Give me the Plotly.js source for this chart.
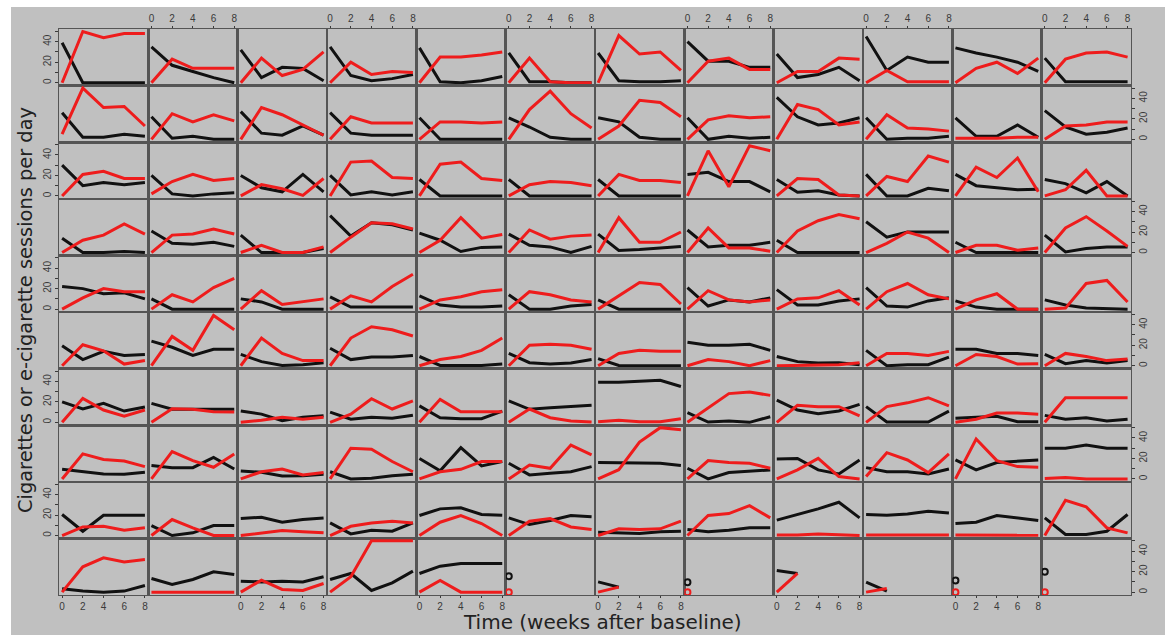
<!DOCTYPE html>
<html>
<head>
<meta charset="utf-8">
<script src="https://cdn.plot.ly/plotly-3.0.1.min.js"></script>
<style>html,body{margin:0;padding:0;background:#fff;}#chart{width:1165px;height:635px;}</style>
</head>
<body>
<div id="chart"></div>
<script>
// Time points (weeks after baseline)
const weeks = [0, 2, 4, 6, 8];
const xTickVals = [0, 2, 4, 6, 8];
const yTickVals = [0, 10, 20, 30, 40, 50];
const yTickText = ['0', '', '20', '', '40', ''];

// Each row: 12 panels, each panel = values at weeks 0,2,4,6,8
// Black = cigarettes, Red = e-cigarette sessions
const blk1 = [[39,0,0,0,0],[35,17,11,5,0],[32,5,15,14,2],[35,7,2,4,8],[34,1,0,2,6],[29,1,1,0,0],[29,2,1,1,2],[40,21,21,15,15],[28,5,8,15,2],[45,12,25,20,20],[34,29,25,20,11],[24,1,1,1,1]];
const red1 = [[0,50,44,48,48],[0,23,14,14,14],[0,24,7,13,30],[0,20,8,11,10],[0,25,25,27,30],[0,24,1,0,0],[0,46,28,30,12],[0,21,24,13,13],[0,11,11,24,23],[0,12,1,1,1],[0,14,20,9,24],[0,23,29,30,25]];

const blk2 = [[26,2,2,5,3],[22,1,3,0,0],[27,6,4,13,4],[26,6,4,4,4],[21,0,0,0,0],[21,12,2,0,0],[21,17,2,0,0],[21,0,3,1,2],[41,22,14,16,21],[21,0,1,1,3],[21,3,3,14,2],[28,12,5,7,11]];
const red2 = [[5,50,31,32,13],[0,25,17,24,18],[0,31,24,14,4],[0,22,16,16,16],[0,17,17,16,17],[0,29,47,25,11],[0,13,38,36,22],[0,19,23,21,22],[0,34,29,14,17],[0,24,11,10,8],[1,1,1,2,2],[0,13,14,17,17]];

const blk3 = [[30,10,13,11,13],[20,2,0,2,3],[20,8,4,21,4],[20,1,4,1,4],[16,0,0,0,0],[16,0,0,0,0],[16,0,0,0,0],[21,23,14,14,4],[16,3.5,5,1,0],[21,0,0,7.5,5],[21,10,8,6,6.5],[16,12,3,14,0]];
const red3 = [[0,21,24,17,17],[2,14,21,15,17],[0,11,7,0.5,17],[0,33,34,18,17],[0,31,33,17,15],[0,11,14,13,10],[0,21,15,15,13],[0,44,9,49,44],[0,17,16,1,0],[0,19,14,39,33],[0,28,18,37,4],[0,6,25,0,0]];

const blk4 = [[14,0,0,1,0],[21,9,8,10,6],[17,0,0,0,4],[36,16,29,27,22],[19,12,1,5,5.5],[18,7,5.5,0,6],[18,2,3,4.5,6],[22,5.5,7,7,10],[12,0,0,0,0],[30,15,20,20,20],[10,0,0,0,0],[17,0.5,4,5.5,5.5]];
const red4 = [[0,12,17,28,18],[0,17,18,23,18],[0,7,0,0,5.5],[0,15,29,28,23],[0,12,34,14,17.5],[0,22,13,16,17],[0,34,10,10,20],[0,24,4.5,4.5,1.3],[0,21,31,37,33],[0,9,20,14,0],[0,7,7,2.3,4.5],[0,24,35,21,6]];

const blk5 = [[22,20,15,16,10],[10,0,0,0,0],[10,7,0,0,0],[12,2,2,2,2],[13,4,2,2,3],[14,0,0,3,4.5],[9,0,0,0,0],[21,3,9,7,11],[19,4,4,8,10],[21,3,2,8,11],[8,2,0,0,0],[9,4,1,0.5,0]];
const red5 = [[0,11,20,17,17],[0,14,7,21,30],[0,18,4.5,7,10],[0,13,7,22,34],[0,9,12,17,19],[0,17,14,9,7],[0,13,26,24,5],[0,18,9,7,9],[0,10,11,18,4],[0,17,25,14,10],[0,9,15,0,0],[0,1,25,28,7]];

const blk6 = [[19.5,6,14,10,11],[24,18,10,16,16],[11,4,0.3,1,3],[17,6,8.5,8.5,10],[9,0.3,0.3,0.3,1.6],[12,3,1.6,2.6,6],[7,0.3,0,0,0],[23,20,20,21,15],[9,4,2.6,3,1],[15,0,1,1,8.4],[16,16,12,12,10],[11,2,5,2.6,5]];
const red6 = [[0,20.5,14.6,1.6,5],[0,28.6,15,49,35],[0,27,12,5,5],[0,27,38,35,29],[0,6,9,15,27],[0,20,21,20,16],[0,12,15,14,14],[0,6,4,0,5],[0,0.5,1,1,3],[0,12,12,10,14],[0,11,9,1.6,2],[0,12,9,5,6.5]];

const blk7 = [[20,13,18.5,11,15],[18.5,12.7,12.7,12.7,12.7],[11,8,1.5,5,6.5],[10,3,5,4,7],[16,4.5,3.6,3.6,11],[21,12.7,14.3,15.3,16.6],[39,39,40,41,35],[9.4,0.3,1.3,0,5.5],[21.7,12,8.4,11,17.5],[15.3,0.3,0.3,0.3,11],[4,5,6,0.5,0.5],[6.8,3,4.5,1.3,3]];
const red7 = [[0,23.4,12,6,12],[0,13.3,12.7,10.4,10],[0,2,5,3,5],[0,8,23,13,21],[0,22.4,10.4,10.4,10.4],[0,13,4.5,1.3,0.3],[0.5,2,0.5,0.5,3.5],[0,14.3,28,29.5,26.3],[0,16.6,15.3,15.3,6.2],[0,15.3,19,24,16],[0,3,9,9,8],[0,24,24,24,24]];

const blk8 = [[9.4,7,4.9,4.5,6.5],[13,11,11,21,9.7],[7.8,6.5,2.9,3.2,4.5],[7,0,0.6,3.2,4.5],[20,8,30.5,12.7,17],[15.3,3.9,5.5,7,12],[16,16,16,15.3,13],[10.4,0,6.2,7.8,8.8],[19.5,20,8.8,4.9,18.5],[11,7,7,4.9,9.7],[18.5,8.8,16,17.5,18.5],[30,30,33,30,30]];
const red8 = [[0,24.4,19,17.5,12],[0,26.6,17.9,11.4,24.4],[0,7,9.7,3.9,6.2],[0,30,29,17,7],[0,7,9.4,17,17],[0,13.6,10.4,33,23.4],[0,9,36,50,48],[0,17.9,16,15.3,10.4],[0,8.8,20,2.3,0],[2.3,25.6,18.5,6.2,24.4],[0,39,17.9,12,11.4],[0.3,1.5,0,0,0]];

const blk9 = [[20.5,4.2,19.8,19.8,19.8],[9.7,0,2.6,9.7,9.7],[16.6,17.9,13,15.6,17.2],[12.3,1.6,5.2,4.2,12.3],[19.5,26,27,20.5,19.8],[17.2,10.7,14.6,19.5,18.2],[3.2,2.6,2,3.6,4.2],[5.8,3.6,5.2,7.5,7.5],[15,20.5,26,32.5,17.2],[20.5,19.8,21,23.7,22],[11.7,13,19.5,17.2,14.6],[17.2,1,1,4.2,20.5]];
const red9 = [[0,8.4,9,5.2,7.5],[0,15.6,7.5,0,0],[0,2.6,4.9,3.6,2.6],[0,9,12.3,14,12.3],[0,13,19.5,11.7,0],[0,14,16.6,8.4,5.8],[0,6.5,5.8,6.5,14],[0,19.5,21.4,29.2,17.2],[0.5,0.5,1.6,0.6,0],[0.5,0.5,0.5,0.5,0.5],[0.5,0.3,0.3,0.3,0.3],[0,34.4,28,7.5,2.6]];

const blk10 = [[3.2,1,0,1,6.5],[13.3,7.5,12.3,19.8,17.2],[10.7,10,10.7,10,15],[12.3,18.2,1.6,9,20.5],[18.2,25.3,28,28,28],[15.6,null,null,null,null],[10,4.9,null,null,null],[9.7,null,null,null,null],[21,18.2,null,null,null],[9.7,1,null,null,null],[11.4,null,null,null,null],[19.8,null,null,null,null]];
const red10 = [[0,24.7,33.4,29.5,31.8],[0,0,0,0,0],[0,11.7,2.6,1.6,8.4],[0,15,50,50,50],[0,11.4,0,0,0],[0,null,null,null,null],[0,4.9,null,null,null],[0,null,null,null,null],[0,18.2,null,null,null],[0,3.6,null,null,null],[0,null,null,null,null],[0,null,null,null,null]];

const blackRows = [blk1, blk2, blk3, blk4, blk5, blk6, blk7, blk8, blk9, blk10];
const redRows = [red1, red2, red3, red4, red5, red6, red7, red8, red9, red10];

const NR = 10, NC = 12;
const BG = '#c0c0c0';
const BORDER = '#555555';
const TICKFONT = {family: 'Liberation Sans, Arial, sans-serif', size: 10, color: '#3a3a3a'};
const TITLEFONT = 'DejaVu Sans, Open Sans, sans-serif';

const traces = [];
const layout = {
  width: 1165, height: 635,
  margin: {l: 59, r: 34, t: 29, b: 40, pad: 0},
  paper_bgcolor: '#ffffff',
  plot_bgcolor: 'rgba(0,0,0,0)',
  showlegend: false,
  shapes: [{
    type: 'rect', xref: 'paper', yref: 'paper', layer: 'below',
    x0: (11 - 59) / 1072, x1: (1175 - 59) / 1072,
    y0: (595 - 645) / 566, y1: (595 - 7) / 566,
    fillcolor: BG, line: {width: 0}
  }],
  annotations: [
    {text: 'Cigarettes or e-cigarette sessions per day', xref: 'paper', yref: 'paper',
     x: (25 - 59) / 1072, y: (595 - 310) / 566, xanchor: 'center', yanchor: 'middle',
     textangle: -90, showarrow: false, borderpad: 0,
     font: {family: TITLEFONT, size: 19.4, color: '#222'}},
    {text: 'Time (weeks after baseline)', xref: 'paper', yref: 'paper',
     x: (602 - 59) / 1072, y: (595 - 634.5) / 566, xanchor: 'center', yanchor: 'bottom',
     showarrow: false, borderpad: 0,
     font: {family: TITLEFONT, size: 20, color: '#222'}}
  ]
};

function countVals(arr) { return arr.filter(v => v !== null).length; }

for (let r = 0; r < NR; r++) {
  for (let c = 0; c < NC; c++) {
    const k = r * NC + c + 1;
    const xs = k === 1 ? '' : String(k);
    const xname = 'xaxis' + xs, yname = 'yaxis' + xs;
    const xa = {
      domain: [c / NC, (c + 1) / NC], range: [-0.3, 8.33], anchor: 'y' + xs,
      showline: true, mirror: true, linecolor: BORDER, linewidth: 1.3,
      showgrid: false, zeroline: false, fixedrange: true,
      ticks: '', showticklabels: false
    };
    if ((r === 0 && c % 2 === 1) || (r === NR - 1 && c % 2 === 0)) {
      Object.assign(xa, {
        side: r === 0 ? 'top' : 'bottom', ticks: 'outside', ticklen: 2, tickwidth: 1,
        tickcolor: '#3a3a3a', showticklabels: true, tickmode: 'array',
        tickvals: xTickVals, ticktext: xTickVals.map(String), tickfont: TICKFONT
      });
    }
    const ya = {
      domain: [1 - (r + 1) / NR, 1 - r / NR], range: [-2.8, 52.4], anchor: 'x' + xs,
      showline: true, mirror: true, linecolor: BORDER, linewidth: 1.3,
      showgrid: false, zeroline: false, fixedrange: true,
      ticks: '', showticklabels: false
    };
    if ((c === 0 && r % 2 === 0) || (c === NC - 1 && r % 2 === 1)) {
      Object.assign(ya, {
        side: c === 0 ? 'left' : 'right', ticks: 'outside', ticklen: 3, tickwidth: 1,
        tickcolor: '#3a3a3a', showticklabels: true, tickmode: 'array',
        tickvals: yTickVals, ticktext: yTickText, tickangle: -90, tickfont: TICKFONT
      });
    }
    layout[xname] = xa;
    layout[yname] = ya;

    const series = [
      {vals: blackRows[r][c], color: '#111111'},
      {vals: redRows[r][c], color: '#ee1c1c'}
    ];
    series.forEach(s => {
      const single = countVals(s.vals) === 1;
      traces.push({
        type: 'scatter', x: weeks, y: s.vals, xaxis: 'x' + xs, yaxis: 'y' + xs,
        mode: single ? 'markers' : 'lines',
        line: {color: s.color, width: 3},
        marker: {symbol: 'circle-open', size: 6, color: s.color, line: {width: 2, color: s.color}},
        cliponaxis: true, hoverinfo: 'skip', connectgaps: false
      });
    });
  }
}

Plotly.newPlot('chart', traces, layout, {staticPlot: true, displayModeBar: false});
</script>
</body>
</html>
